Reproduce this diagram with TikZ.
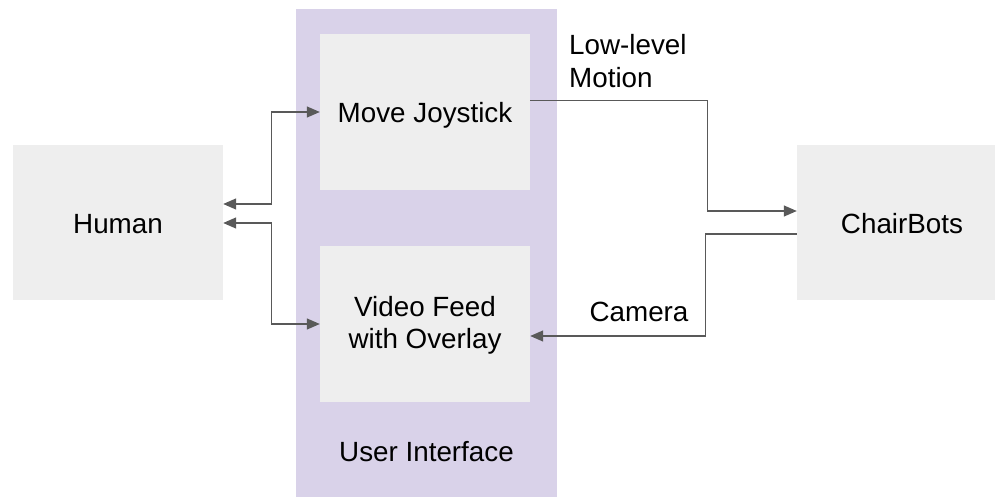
\documentclass[tikz,border=0pt]{standalone}
\usepackage{fontspec}
\setmainfont{Liberation Sans}
\usetikzlibrary{arrows.meta}
\definecolor{uipurple}{HTML}{D9D2E9}
\definecolor{boxgray}{HTML}{EEEEEE}
\definecolor{linegray}{HTML}{595959}
\tikzset{
  block/.style={fill=boxgray, minimum width=210pt, minimum height=156pt, inner sep=0pt, align=center,
    text height=22pt, text depth=0pt, font=\fontsize{27.8}{31.3}\selectfont},
  lbl/.style={inner sep=0pt, font=\fontsize{27.8}{33.5}\selectfont},
  link/.style={draw=linegray, line width=1.3pt, -{Triangle[length=13pt,width=11pt]}},
  dlink/.style={draw=linegray, line width=1.3pt, {Triangle[length=13pt,width=11pt]}-{Triangle[length=13pt,width=11pt]}},
}
\begin{document}
\begin{tikzpicture}[x=1pt, y=-1pt]
  \useasboundingbox (0,0) rectangle (995,497);
  \begin{scope}
    \clip (0,0) rectangle (995,497);
    % user interface panel
    \node[fill=uipurple, minimum width=261pt, minimum height=500pt, inner sep=0pt, anchor=north west] (ui) at (296,9) {};
    \node[block] (joy) at (425,112) {Move Joystick};
    \node[block, text height=51.3pt, text depth=3.3pt] (video) at (425,324) {Video Feed\\with Overlay};
    \node[block, minimum height=155pt] (human) at (118,222.5) {Human};
    \node[block, minimum height=155pt] (chair) at (902,222.5) {ChairBots};
  \end{scope}
  \node[lbl, anchor=base] (uilabel) at (426.5,461) {User Interface};

  % human <-> interface
  \draw[dlink] (joy.west) -- ++(-48.5,0) |- ([yshift=18.5pt]human.east);
  \draw[dlink] ([yshift=-0.5pt]human.east) -- ++(48.5,0) |- (video.west);

  % interface <-> robots
  \draw[link] ([yshift=11.3pt]joy.east) -- ++(177,0) |- ([yshift=11.5pt]chair.west);
  \draw[link] ([yshift=-11.5pt]chair.west) -- ++(-91,0) |- ([yshift=-12pt]video.east);

  \node[lbl, anchor=base west, align=left] (motion) at (569,87.7) {Low-level\\Motion};
  \node[lbl, anchor=base] (camera) at (639,321.5) {Camera};
\end{tikzpicture}
\end{document}
